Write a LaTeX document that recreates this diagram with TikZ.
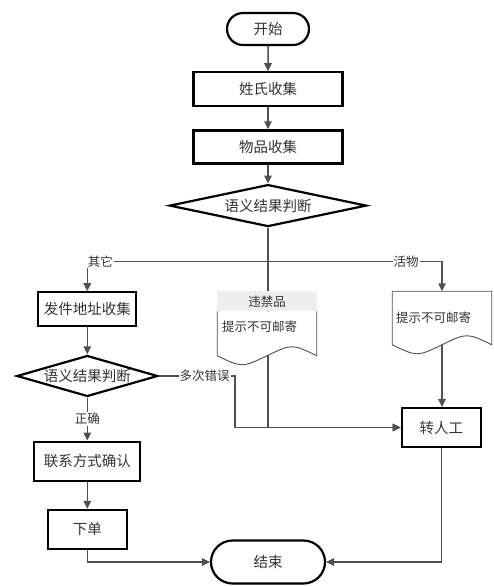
\documentclass[tikz,border=0pt]{standalone}
\usepackage{fontspec}
\newfontfamily\cjk{Noto Sans CJK SC}
\usepackage{tikz}
\usepackage{xcolor}
\usetikzlibrary{calc}
\usetikzlibrary{positioning}
\usetikzlibrary{arrows.meta}
\usetikzlibrary{shapes.geometric, shapes.misc}
\definecolor{edgegray}{HTML}{505050}
\definecolor{textgray}{HTML}{333333}
\definecolor{headgray}{HTML}{EEEEEE}

\begin{document}
\begin{tikzpicture}[x=1pt, y=-1pt, ->, >={Triangle[length=8pt, width=7.5pt]}, draw=edgegray, line width=1.5pt, text=textgray, font=\cjk\fontsize{14.5}{17}\selectfont]
    \tikzstyle{term}=[draw=black, line width=2.2pt, rounded rectangle, fill=white, inner sep=2pt]
    \tikzstyle{block}=[draw=black, line width=2.2pt, rectangle, fill=white, inner sep=2pt]
    \tikzstyle{decision}=[draw=black, line width=2.2pt, diamond, aspect=4, fill=white, inner sep=0pt]
    \tikzstyle{lab}=[fill=white, inner sep=1pt, font=\cjk\fontsize{12.5}{14}\selectfont]
    \tikzstyle{doctext}=[inner sep=0pt, font=\cjk\fontsize{12.5}{14}\selectfont]
    \tikzstyle{docline}=[-, draw=edgegray, line width=0.9pt, fill=white]

    \useasboundingbox (0,0) rectangle (494,586);

    \node[term, minimum width=86pt, minimum height=32pt] (start) at (268,29) {开始};
    \node[block, minimum width=149pt, minimum height=34pt, below=25pt of start] (name) {姓氏收集};
    \node[block, minimum width=149pt, minimum height=33pt, below=22pt of name] (item) {物品收集};
    \node[decision, minimum width=197pt, minimum height=42pt, below=19pt of item] (judge) {语义结果判断};

    \node[block, minimum width=98pt, minimum height=34pt] (addr) at (87.3,309.3) {发件地址收集};
    \node[decision, minimum width=141pt, minimum height=41pt, below=27pt of addr] (check) {语义结果判断};
    \node[block, minimum width=106pt, minimum height=39pt, below=43pt of check] (contact) {联系方式确认};
    \node[block, minimum width=79pt, minimum height=39pt, below=27pt of contact] (order) {下单};
    \node[term, minimum width=118pt, minimum height=43pt] (end) at (268,562) {结束};
    \node[block, minimum width=79pt, minimum height=39pt] (manual) at (441.3,427.5) {转人工};

    \node[minimum width=98pt, minimum height=63pt, inner sep=0pt] (ban) at (267,323.5) {};
    \node[minimum width=98pt, minimum height=52pt, inner sep=0pt] (live) at (442,318) {};

    \coordinate (fork) at ($(judge.south)+(0,34)$);
    \coordinate[right=76pt of check] (bend);

    \path (start) edge (name);
    \path (name) edge (item);
    \path (item) edge (judge);
    \draw (judge.south) -- (fork) -| (addr.north);
    \draw (judge.south) -- (fork) -| (live.north);
    \draw (judge.south) -- (judge.south |- manual.west) -- (manual.west);
    \node[lab] at ($(fork -| addr)+(13,0)$) {其它};
    \node[lab] at ($(fork -| live)+(-36,0)$) {活物};

    % documents sit on top of the lines
    \filldraw[docline] ($(ban.north west)+(0,20)$) -- (ban.south west)
        .. controls ($(ban.south west)!0.25!(ban.south east)+(0,12)$) .. (ban.south)
        .. controls ($(ban.south west)!0.75!(ban.south east)+(0,-12)$) .. (ban.south east)
        -- ($(ban.north east)+(0,20)$);
    \fill[headgray] (ban.north west) rectangle ($(ban.north east)+(0,20)$);
    \node[doctext] (bantitle) at ($(ban.north)+(0,10)$) {违禁品};
    \node[doctext, anchor=west] (bannote) at ($(ban.north west)+(4,35)$) {提示不可邮寄};

    \filldraw[docline] (live.north west) -- (live.south west)
        .. controls ($(live.south west)!0.25!(live.south east)+(0,12)$) .. (live.south)
        .. controls ($(live.south west)!0.75!(live.south east)+(0,-12)$) .. (live.south east)
        -- (live.north east) -- cycle;
    \node[doctext, anchor=west] (livenote) at ($(live.west)+(3,0)$) {提示不可邮寄};
    \draw (live.south) -- (live.south |- manual.north);

    \path (addr) edge (check);
    \draw (check) -- node[lab] {正确} (contact);
    \path (contact) edge (order);
    \draw (check.east) -- node[lab, pos=0.6] {多次错误} (bend) |- (manual.west);
    \draw (order.south) |- (end.west);
    \draw (manual.south) |- (end.east);
\end{tikzpicture}
\end{document}
